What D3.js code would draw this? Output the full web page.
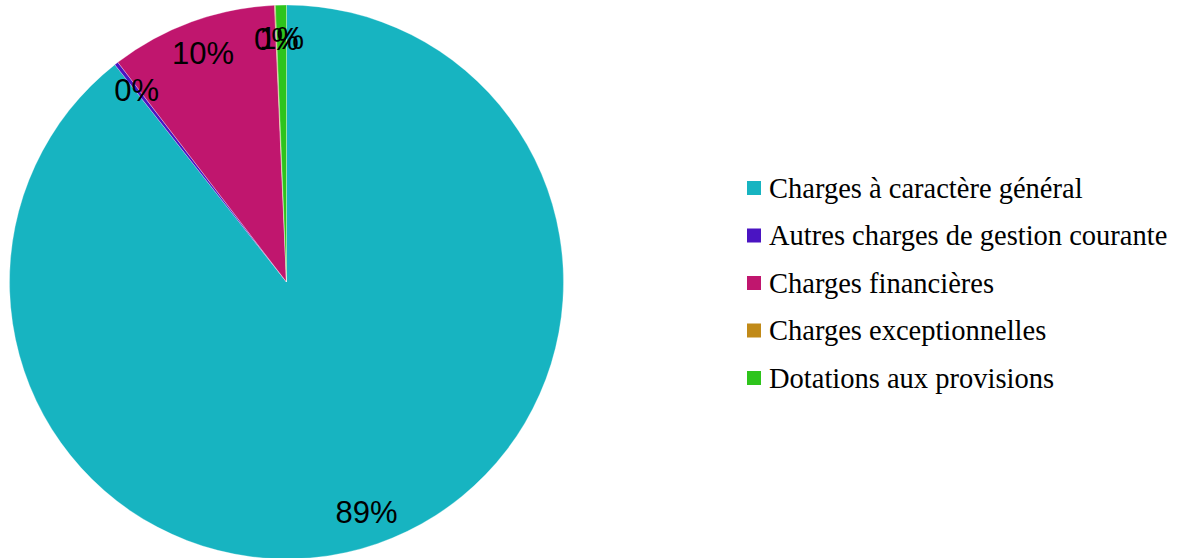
<!DOCTYPE html>
<html lang="fr">
<head>
  <meta charset="UTF-8">
  <title>Répartition des charges</title>
  <script src="https://d3js.org/d3.v7.min.js"></script>
  <style>
    body { margin: 0; background: #fff; }
    .label { font-family: "Liberation Sans", Arial, sans-serif; font-size: 31px; fill: #000; }
    .legend text { font-family: "Liberation Serif", serif; font-size: 28.5px; fill: #000; }
  </style>
</head>
<body>
  <svg width="1186" height="558"></svg>
  <script>
    const categories = [
      "Charges à caractère général",
      "Autres charges de gestion courante",
      "Charges financières",
      "Charges exceptionnelles",
      "Dotations aux provisions"
    ];
    const values = [89.36, 0.22, 9.73, 0.05, 0.64];
    const colors = ["#17b4c1", "#4a14c2", "#c0166e", "#c18a18", "#2ec41c"];

    const svg = d3.select("svg");
    const cx = 286.5, cy = 282, radius = 277;

    const data = categories.map((c, i) => ({ name: c, value: values[i], color: colors[i] }));
    const total = d3.sum(values);

    const pie = d3.pie().value(d => d.value).sort(null);
    const arc = d3.arc().innerRadius(0).outerRadius(radius);
    const labelArc = d3.arc().innerRadius(radius * 0.88).outerRadius(radius * 0.88);

    const g = svg.append("g").attr("transform", `translate(${cx},${cy})`);

    g.selectAll("path")
      .data(pie(data))
      .enter().append("path")
      .attr("d", arc)
      .attr("fill", d => d.data.color)
      .attr("stroke", "#fff")
      .attr("stroke-width", 0.3);

    g.selectAll("text")
      .data(pie(data))
      .enter().append("text")
      .attr("class", "label")
      .attr("transform", d => `translate(${labelArc.centroid(d)})`)
      .attr("text-anchor", "middle")
      .attr("dy", "0.36em")
      .text(d => d3.format(".0f")(d.data.value / total * 100) + "%");

    const legend = svg.append("g")
      .attr("class", "legend")
      .attr("transform", "translate(747,188)");

    const item = legend.selectAll("g")
      .data(data)
      .enter().append("g")
      .attr("transform", (d, i) => `translate(0,${i * 47.5})`);

    item.append("rect")
      .attr("x", 0).attr("y", -7)
      .attr("width", 14).attr("height", 14)
      .attr("fill", d => d.color);

    item.append("text")
      .attr("x", 22)
      .attr("dy", "0.35em")
      .text(d => d.name);
  </script>
</body>
</html>
